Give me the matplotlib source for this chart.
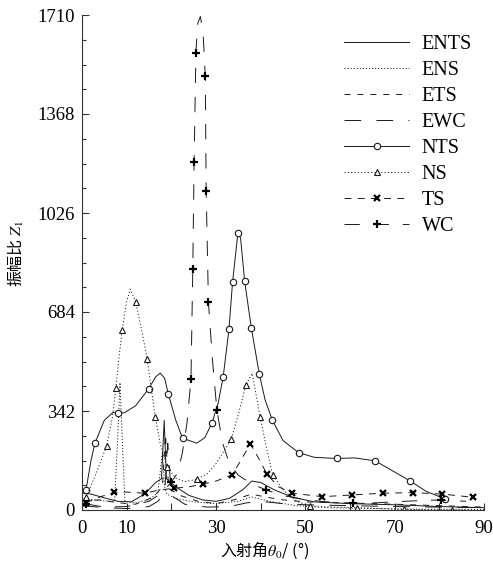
import matplotlib
matplotlib.use("Agg")
import matplotlib.pyplot as plt
from matplotlib.ticker import MultipleLocator, FixedLocator, FixedFormatter

plt.rcParams['font.family'] = ['Liberation Serif', 'DejaVu Serif']
plt.rcParams['mathtext.fontset'] = 'stix'
plt.rcParams['lines.scale_dashes'] = False

# ---------------- data ----------------
ents_x = [0, 2, 5, 8, 11, 14, 16.5, 17.8, 18.4, 18.9, 19.5, 21, 24, 27, 30, 33, 36, 38, 40, 43, 47, 52, 60, 70, 80, 90]
ents_y = [58, 55, 42, 30, 28, 55, 95, 108, 310, 108, 100, 80, 50, 35, 30, 40, 70, 100, 95, 70, 45, 28, 22, 18, 12, 8]

ens_x = [0, 3, 6, 7.3, 8.0, 8.5, 9.0, 9.6, 12, 15, 17, 18, 18.5, 19, 21, 25, 30, 35, 38, 42, 48, 55, 65, 75, 90]
ens_y = [40, 35, 30, 30, 250, 440, 250, 30, 25, 35, 60, 200, 80, 55, 40, 28, 22, 30, 45, 30, 15, 8, 5, 3, 2]

ets_x = [0, 4, 8, 12, 16, 18, 18.7, 19.4, 22, 26, 30, 34, 38, 41, 45, 50, 60, 70, 80, 90]
ets_y = [30, 35, 25, 20, 45, 80, 260, 75, 50, 30, 22, 35, 55, 45, 35, 28, 24, 20, 15, 10]

ewc_x = [0, 5, 10, 15, 17, 18.5, 19.2, 20, 23, 28, 33, 37, 40, 45, 50, 60, 70, 80, 90]
ewc_y = [15, 8, 5, 12, 30, 60, 230, 50, 20, 10, 12, 25, 30, 22, 18, 15, 12, 10, 8]

nts_x = [0.9, 2.0, 2.9, 5, 7, 8.0, 9.5, 12, 14.9, 16.5, 17.5, 18.5, 19.3, 21, 22.5, 25.7, 27.5, 29.1, 30.5,
         31.6, 32.9, 33.7, 34.9, 35.5, 36.4, 37.9, 39.7, 41, 42.6, 45, 48.5, 52, 57.0, 61, 65.6, 69, 73.5, 77, 81.3]
nts_y = [69, 170, 231, 310, 338, 334, 336, 360, 418, 460, 473, 455, 402, 310, 248, 231, 250, 301, 370,
         459, 624, 786, 956, 940, 792, 630, 469, 380, 311, 240, 198, 182, 178, 180, 170, 140, 100, 65, 38]
nts_mk = [0.9, 2.9, 8.0, 14.9, 19.3, 22.5, 29.1, 31.6, 32.9, 33.7, 34.9, 36.4, 37.9, 39.7, 42.6, 48.5, 57.0, 65.6, 73.5, 81.3]

ns_x = [0.9, 3, 5.5, 6.8, 7.6, 8.3, 9.0, 10.0, 10.8, 12.0, 13.5, 14.6, 15.5, 16.4, 17.5, 19.1, 21, 23, 25.7,
        28, 30, 33.4, 35, 36.7, 38.1, 39.9, 41.5, 42.7, 45, 48, 51.0, 56, 61.6, 67, 72.1, 78, 82.8, 88]
ns_y = [45, 120, 221, 320, 422, 530, 622, 720, 763, 720, 610, 522, 420, 322, 230, 147, 110, 98, 106,
        125, 160, 244, 330, 432, 472, 320, 200, 121, 70, 30, 14, 10, 8, 5, 2, 1, 0, 0]
ns_mk = [0.9, 5.5, 7.6, 9.0, 12.0, 14.6, 16.4, 19.1, 25.7, 33.4, 36.7, 39.9, 42.7, 51.0, 61.6, 72.1, 82.8]

ts_x = [0.9, 4, 7.2, 10, 14.0, 17, 20.5, 24, 27.2, 30, 33.6, 35.5, 37.7, 39.5, 41.4, 44, 47.1, 53.8, 60.5, 67.3, 74.0, 80.7, 87.5]
ts_y = [25, 45, 61, 62, 58, 68, 75, 80, 90, 100, 121, 170, 228, 180, 124, 80, 58, 46, 52, 58, 60, 55, 44]
ts_mk = [0.9, 7.2, 14.0, 20.5, 27.2, 33.6, 37.7, 41.4, 47.1, 53.8, 60.5, 67.3, 74.0, 80.7, 87.5]

wc_x = [0.9, 5, 10, 15, 18, 20.0, 21.5, 22.5, 23.5, 24.4, 24.8, 25.1, 25.5, 25.9, 26.5, 27.1, 27.6, 27.8, 28.3,
        29.2, 30.2, 31.5, 33, 35, 38, 41.3, 45, 50, 55, 60.7, 66, 72, 80.3, 86]
wc_y = [21, 10, 12, 30, 60, 97, 130, 200, 300, 452, 831, 1201, 1580, 1680, 1705, 1650, 1499, 1103, 719,
        520, 345, 230, 160, 120, 90, 69, 50, 35, 28, 23, 25, 30, 35, 30]
wc_mk = [0.9, 20.0, 24.4, 24.8, 25.1, 25.5, 27.6, 27.8, 28.3, 30.2, 41.3, 60.7, 80.3]

y_ticks = [0, 342, 684, 1026, 1368, 1710]
x_ticks = [0, 10, 20, 30, 40, 50, 60, 70, 80, 90]
x_ticklabels = ['0', '10', '', '30', '', '50', '', '70', '', '90']
labels = ['ENTS', 'ENS', 'ETS', 'EWC', 'NTS', 'NS', 'TS', 'WC']

# ---------------- figure ----------------
fig = plt.figure(figsize=(4.93, 5.69), dpi=100)
ax = fig.add_axes([82 / 493, 59 / 569, 402 / 493, 495 / 569])

col = '#1a1a1a'
lw = 0.7


def idx(xs, mk):
    return [xs.index(v) for v in mk]


ax.plot(ents_x, ents_y, color=col, lw=lw, ls='-', label=labels[0])
ax.plot(ens_x, ens_y, color=col, lw=lw, ls=(0, (0.8, 1.4)), label=labels[1])
ax.plot(ets_x, ets_y, color=col, lw=lw, ls=(0, (4.3, 5)), label=labels[2])
ax.plot(ewc_x, ewc_y, color=col, lw=lw, ls=(0, (12, 11)), label=labels[3])
ax.plot(nts_x, nts_y, color=col, lw=lw, ls='-', marker='o', ms=4.6, mfc='white', mec=col, mew=0.8,
        markevery=idx(nts_x, nts_mk), label=labels[4])
ax.plot(ns_x, ns_y, color=col, lw=lw, ls=(0, (0.8, 1.6)), marker='^', ms=4.6, mfc='white', mec=col, mew=0.8,
        markevery=idx(ns_x, ns_mk), label=labels[5])
ax.plot(ts_x, ts_y, color=col, lw=lw, ls=(0, (5, 4.5)), marker='x', ms=4.6, mec='black', mew=1.6,
        markevery=idx(ts_x, ts_mk), label=labels[6])
ax.plot(wc_x, wc_y, color=col, lw=lw, ls=(0, (11, 10)), marker='+', ms=5.5, mec='black', mew=1.6,
        markevery=idx(wc_x, wc_mk), label=labels[7])

ax.set_xlim(0, 90)
ax.set_ylim(0, 1710)
ax.spines['top'].set_visible(False)
ax.spines['right'].set_visible(False)
for s in ('left', 'bottom'):
    ax.spines[s].set_linewidth(0.8)
    ax.spines[s].set_color('#333333')

ax.yaxis.set_major_locator(FixedLocator(y_ticks))
ax.yaxis.set_minor_locator(MultipleLocator(85.5))
ax.xaxis.set_major_locator(FixedLocator(x_ticks))
ax.xaxis.set_major_formatter(FixedFormatter(x_ticklabels))
ax.tick_params(axis='both', which='both', direction='in', colors='#333333', labelcolor='black',
               labelsize=13.5)
ax.tick_params(axis='both', which='major', length=5, width=0.8)
ax.tick_params(axis='both', which='minor', length=3, width=0.8)
ax.tick_params(axis='y', pad=5)
ax.tick_params(axis='x', pad=7)

leg = fig.legend(loc='upper left', bbox_to_anchor=(344 / 493, 1 - 35 / 569), bbox_transform=fig.transFigure,
                 frameon=False, fontsize=14.5, handlelength=3.25, handletextpad=0.62,
                 labelspacing=0.34, borderpad=0, borderaxespad=0)

cjk = ['Noto Sans CJK SC', 'DejaVu Sans']
fig.text(16 / 493, 1 - 254 / 569, '振幅比 $Z_1$', rotation=90, ha='center', va='center',
         family=cjk, fontsize=11.5)
fig.text(265 / 493, 1 - 550 / 569, '入射角$\\theta_0$/ (°)', ha='center', va='center',
         family=cjk, fontsize=11.5)

fig.savefig('out.png', dpi=100)
